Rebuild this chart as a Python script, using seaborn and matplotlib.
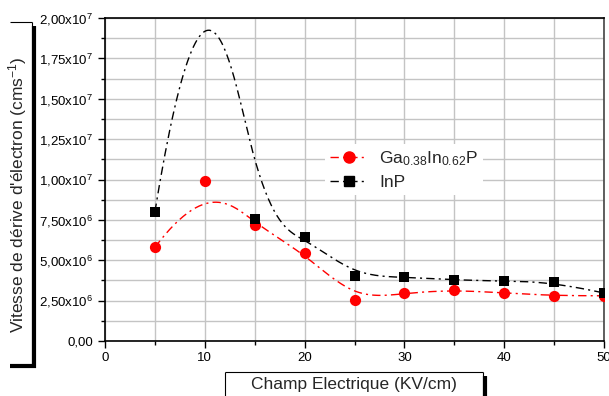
import numpy as np
import pandas as pd
import seaborn as sns
import matplotlib.pyplot as plt
from matplotlib.lines import Line2D
from matplotlib.ticker import MultipleLocator, FuncFormatter

sns.set_style("white")
plt.rcParams['font.family'] = ['Liberation Sans', 'DejaVu Sans']
plt.rcParams['mathtext.default'] = 'regular'

# champ electrique (KV/cm)
champ = [5, 10, 15, 20, 25, 30, 35, 40, 45, 50]
# vitesse de derive (cm/s)
v_gainp = [5.8e6, 9.9e6, 7.2e6, 5.45e6, 2.55e6, 2.97e6, 3.16e6, 2.97e6, 2.8e6, 2.8e6]
v_inp = [8.0e6, 2.7e7, 7.55e6, 6.44e6, 4.02e6, 3.96e6, 3.78e6, 3.71e6, 3.65e6, 2.97e6]
label_gainp = 'Ga$_{0.38}$In$_{0.62}$P'
label_inp = 'InP'


def bspline(xs, ys, n=400, k=3):
    # courbe B-spline (comme Origin), points = points de controle
    P = np.column_stack([xs, ys])
    m = len(P)
    knots = np.concatenate([[0] * k, np.linspace(0, 1, m - k + 1), [1] * k])
    t = np.linspace(0, 1, n)
    t[-1] -= 1e-9
    N = np.array([(knots[i] <= t) & (t < knots[i + 1]) for i in range(len(knots) - 1)], float)
    for d in range(1, k + 1):
        Nn = np.zeros((len(knots) - 1 - d, n))
        for i in range(len(knots) - 1 - d):
            a = knots[i + d] - knots[i]
            b = knots[i + d + 1] - knots[i + 1]
            if a > 0:
                Nn[i] += (t - knots[i]) / a * N[i]
            if b > 0:
                Nn[i] += (knots[i + d + 1] - t) / b * N[i + 1]
        N = Nn
    c = N.T @ P
    return pd.DataFrame({'x': c[:, 0], 'y': c[:, 1]})


fig = plt.figure(figsize=(6.09, 3.96), dpi=100)
ax = fig.add_axes([105 / 609, 1 - 341 / 396, 499 / 609, 323 / 396])

dash = (6, 3, 1.5, 3)
sns.lineplot(data=bspline(champ, v_gainp), x='x', y='y', sort=False, ax=ax,
             color='red', lw=1, estimator=None)
sns.lineplot(data=bspline(champ, v_inp), x='x', y='y', sort=False, ax=ax,
             color='black', lw=1, estimator=None)
for ln in ax.lines:
    ln.set_dashes(dash)
sns.scatterplot(x=champ, y=v_gainp, ax=ax, color='red', marker='o', s=65,
                edgecolor='red', linewidth=0, zorder=3)
sns.scatterplot(x=champ, y=v_inp, ax=ax, color='black', marker='s', s=52,
                edgecolor='black', linewidth=0, zorder=3)

ax.set_xlim(0, 50)
ax.set_ylim(0, 2e7)
ax.xaxis.set_major_locator(MultipleLocator(10))
ax.xaxis.set_minor_locator(MultipleLocator(5))
ax.yaxis.set_major_locator(MultipleLocator(2.5e6))
ax.yaxis.set_minor_locator(MultipleLocator(1.25e6))


def fmt(v, pos):
    if v <= 0:
        return '0,00'
    e = int(np.floor(np.log10(v) + 1e-9))
    return f'{v / 10 ** e:.2f}'.replace('.', ',') + f'x10$^{{{e}}}$'


ax.yaxis.set_major_formatter(FuncFormatter(fmt))
ax.grid(which='both', color='#c4c4c4', lw=1)
ax.set_axisbelow(True)
ax.tick_params(which='both', direction='out', left=True, bottom=True, labelsize=9.5, colors='black')
ax.tick_params(which='major', length=5, width=1)
ax.tick_params(which='minor', length=3, width=1)
ax.tick_params(axis='x', pad=3)
for s in ax.spines.values():
    s.set_color('black')
    s.set_linewidth(1.2)
ax.spines['right'].set_color('#444444')
ax.set_xlabel('')
ax.set_ylabel('')

handles = [Line2D([], [], color='red', lw=1, dashes=dash, marker='o', ms=8, mec='red'),
           Line2D([], [], color='black', lw=1, dashes=dash, marker='s', ms=6.5, mec='black')]
leg = ax.legend(handles, [label_gainp, label_inp], loc='center left',
                bbox_to_anchor=(0.424, 0.53), frameon=True, fontsize=12.5,
                handlelength=2.1, handletextpad=0.7, numpoints=1, labelspacing=0.4,
                borderpad=0.3)
leg.get_frame().set_edgecolor('none')
leg.get_frame().set_facecolor('white')
leg.get_frame().set_alpha(1)

# cadres des titres d'axes (style Origin, avec ombre)
W, H = 609, 396


def seg(x0, y0, x1, y1, lw):
    fig.add_artist(Line2D([x0 / W, x1 / W], [1 - y0 / H, 1 - y1 / H], color='black', lw=lw,
                          solid_capstyle='butt'))


seg(10, 22, 32, 22, 0.8)
seg(32, 22, 32, 364, 0.8)
seg(34, 26, 34, 368, 3)
seg(10, 366, 35.5, 366, 3)
fig.text(18 / W, 1 - 195 / H, "Vitesse de dérive d'électron (cms$^{-1}$)", rotation=90,
         ha='center', va='center', fontsize=12.5)

seg(225, 372, 483, 372, 0.8)
seg(225, 372, 225, 396, 0.8)
seg(483, 372, 483, 396, 0.8)
seg(485, 376, 485, 396, 3)
fig.text(354 / W, 1 - 385 / H, 'Champ Electrique (KV/cm)', ha='center', va='center', fontsize=12.5)

fig.savefig('out.png', dpi=100)
